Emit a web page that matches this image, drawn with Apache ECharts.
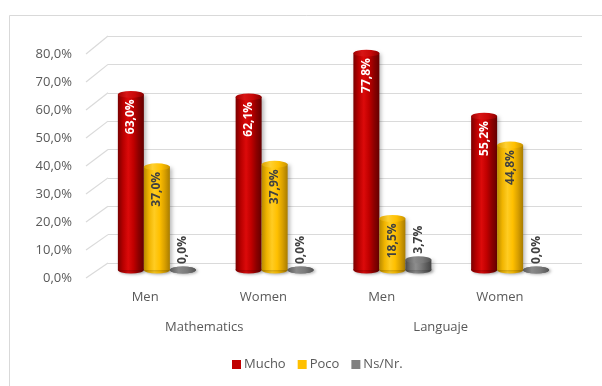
<!DOCTYPE html>
<html>
<head>
<meta charset="utf-8">
<script src="https://cdn.jsdelivr.net/npm/echarts@6/dist/echarts.min.js"></script>
<style>
  html, body { margin: 0; padding: 0; background: #ffffff; }
  #chart { width: 602px; height: 386px; }
</style>
</head>
<body>
<div id="chart"></div>
<script>
// Groups along the horizontal axis
const categories = ['Men', 'Women', 'Men', 'Women'];
const subjects = ['Mathematics', 'Languaje'];

// Answer shares, in percent
const mucho = [63.0, 62.1, 77.8, 55.2];
const poco = [37.0, 37.9, 18.5, 44.8];
const nsnr = [0.0, 0.0, 3.7, 0.0];
const seriesNames = ['Mucho', 'Poco', 'Ns/Nr.'];

// Value axis range and tick step
const yMin = 0, yMax = 80, yStep = 10;

const FONT = '"Open Sans", "Liberation Sans", sans-serif';
const TEXT = '#595959';
const fmt = v => v.toFixed(1).replace('.', ',') + '%';

const G = echarts.graphic;
const cyl = stops => new G.LinearGradient(0, 0, 1, 0, stops.map((c, i) => ({ offset: i / (stops.length - 1), color: c })));

const styles = [
  { solid: '#c00000',
    body: ['#7a0000', '#b80000', '#dc0a0a', '#c00000', '#8c0000', '#640000'],
    cap: ['#a00000', '#d81515', '#c80808', '#8a0000'], label: '#ffffff' },
  { solid: '#ffc000',
    body: ['#b88a00', '#f0b400', '#ffcc22', '#ffc000', '#d9a000', '#a87c00'],
    cap: ['#d9a000', '#ffd030', '#ffc000', '#c89200'], label: '#404040' },
  { solid: '#808080',
    body: ['#4a4a4a', '#747474', '#8e8e8e', '#7a7a7a', '#5e5e5e', '#444444'],
    cap: ['#5a5a5a', '#8a8a8a', '#7a7a7a', '#555555'], label: '#404040' }
];
const values = [mucho, poco, nsnr];

const BAR_W = 26;
const FRONT_LEFT = 86, BACK_LEFT = 108;

const barSeries = values.map((vals, i) => ({
  name: seriesNames[i],
  type: 'bar',
  xAxisIndex: 1, yAxisIndex: 1,
  barWidth: BAR_W, barGap: '0%',
  data: vals,
  z: 3,
  itemStyle: {
    color: cyl(styles[i].body),
    shadowColor: 'rgba(0,0,0,0.28)', shadowBlur: 4, shadowOffsetX: 2, shadowOffsetY: 1
  },
  label: i < 2 ? {
    show: true, position: 'insideTop', rotate: 90, align: 'right', verticalAlign: 'middle',
    distance: 5, color: styles[i].label, fontFamily: FONT, fontSize: 12, fontWeight: 'bold',
    formatter: p => fmt(p.value)
  } : {
    show: true, position: 'top', rotate: 90, align: 'left', verticalAlign: 'middle',
    distance: 8, offset: [-2, 0], color: styles[i].label, fontFamily: FONT, fontSize: 12, fontWeight: 'bold',
    formatter: p => fmt(p.value)
  }
}));

// Elliptical top faces of the cylinders
const topCaps = values.map((vals, i) => ({
  type: 'pictorialBar',
  xAxisIndex: 1, yAxisIndex: 1,
  barWidth: BAR_W, barGap: '0%',
  symbol: 'circle', symbolSize: [BAR_W, 7],
  symbolPosition: 'end', symbolOffset: [0, '-50%'],
  data: vals, z: 4, silent: true, legendHoverLink: false,
  itemStyle: { color: cyl(styles[i].cap) }
}));

// Rounded bases of the cylinders
const baseCaps = values.map((vals, i) => ({
  type: 'pictorialBar',
  xAxisIndex: 2, yAxisIndex: 1,
  barWidth: BAR_W, barGap: '0%',
  symbol: 'circle', symbolSize: [BAR_W, 7],
  symbolPosition: 'start', symbolOffset: [0, '50%'],
  data: vals, z: 2, silent: true, legendHoverLink: false,
  itemStyle: {
    color: cyl(styles[i].body),
    shadowColor: 'rgba(0,0,0,0.3)', shadowBlur: 3, shadowOffsetX: 2, shadowOffsetY: 1
  }
}));

const chart = echarts.init(document.getElementById('chart'), null, { renderer: 'canvas' });

const valueAxis = (grid, extra) => Object.assign({
  type: 'value', gridIndex: grid, min: yMin, max: yMax, interval: yStep,
  axisLine: { show: false }, axisTick: { show: false }, axisLabel: { show: false },
  splitLine: { show: false }
}, extra);

const frame = { type: 'rect', shape: { x: 9.5, y: 15.5, width: 700, height: 500 },
  style: { fill: 'none', stroke: '#d9d9d9', lineWidth: 1 }, silent: true, z: -10 };

chart.setOption({
  animation: false,
  backgroundColor: '#ffffff',
  grid: [
    { left: BACK_LEFT, right: 20, top: 36, bottom: 123 },   // back wall
    { left: 98, right: 33, top: 47, bottom: 116 },          // cylinders
    { left: FRONT_LEFT, right: 43, top: 54, bottom: 108 }   // front edge / labels
  ],
  xAxis: [
    { type: 'category', gridIndex: 0, data: categories, show: false },
    { type: 'category', gridIndex: 1, data: categories, show: false },
    { type: 'category', gridIndex: 1, data: categories, show: false },
    { type: 'category', gridIndex: 2, data: categories, position: 'bottom',
      axisLine: { show: false }, axisTick: { show: false },
      axisLabel: { margin: 13, color: TEXT, fontFamily: FONT, fontSize: 13 } },
    { type: 'category', gridIndex: 2, data: subjects, position: 'bottom',
      axisLine: { show: false }, axisTick: { show: false },
      axisLabel: { margin: 43, color: TEXT, fontFamily: FONT, fontSize: 13 } }
  ],
  yAxis: [
    valueAxis(0, { splitLine: { show: true, lineStyle: { color: '#dadada', width: 1.2 } } }),
    valueAxis(1),
    valueAxis(2, { axisLabel: { show: true, margin: 14, color: TEXT, fontFamily: FONT, fontSize: 13,
      formatter: v => fmt(v) } })
  ],
  legend: {
    data: seriesNames.map((n, i) => ({ name: n, itemStyle: { color: styles[i].solid, shadowBlur: 0, shadowColor: 'transparent' } })),
    left: 227, top: 353,
    icon: 'rect', itemWidth: 9, itemHeight: 9, itemGap: 12,
    textStyle: { color: TEXT, fontFamily: FONT, fontSize: 13, padding: [0, 0, 0, -2] }
  },
  graphic: [frame],
  series: [...barSeries, ...topCaps, ...baseCaps]
});

// Side-wall segments joining each front tick to its gridline on the back wall
const slants = [];
for (let v = yMin; v <= yMax; v += yStep) {
  const yf = chart.convertToPixel({ yAxisIndex: 2 }, v);
  const yb = chart.convertToPixel({ yAxisIndex: 0 }, v);
  slants.push({
    type: 'line', silent: true, z: -5,
    shape: { x1: FRONT_LEFT, y1: yf, x2: BACK_LEFT, y2: yb },
    style: { stroke: '#dadada', lineWidth: 1.2 }
  });
}
chart.setOption({ graphic: [frame, ...slants] });
</script>
</body>
</html>
